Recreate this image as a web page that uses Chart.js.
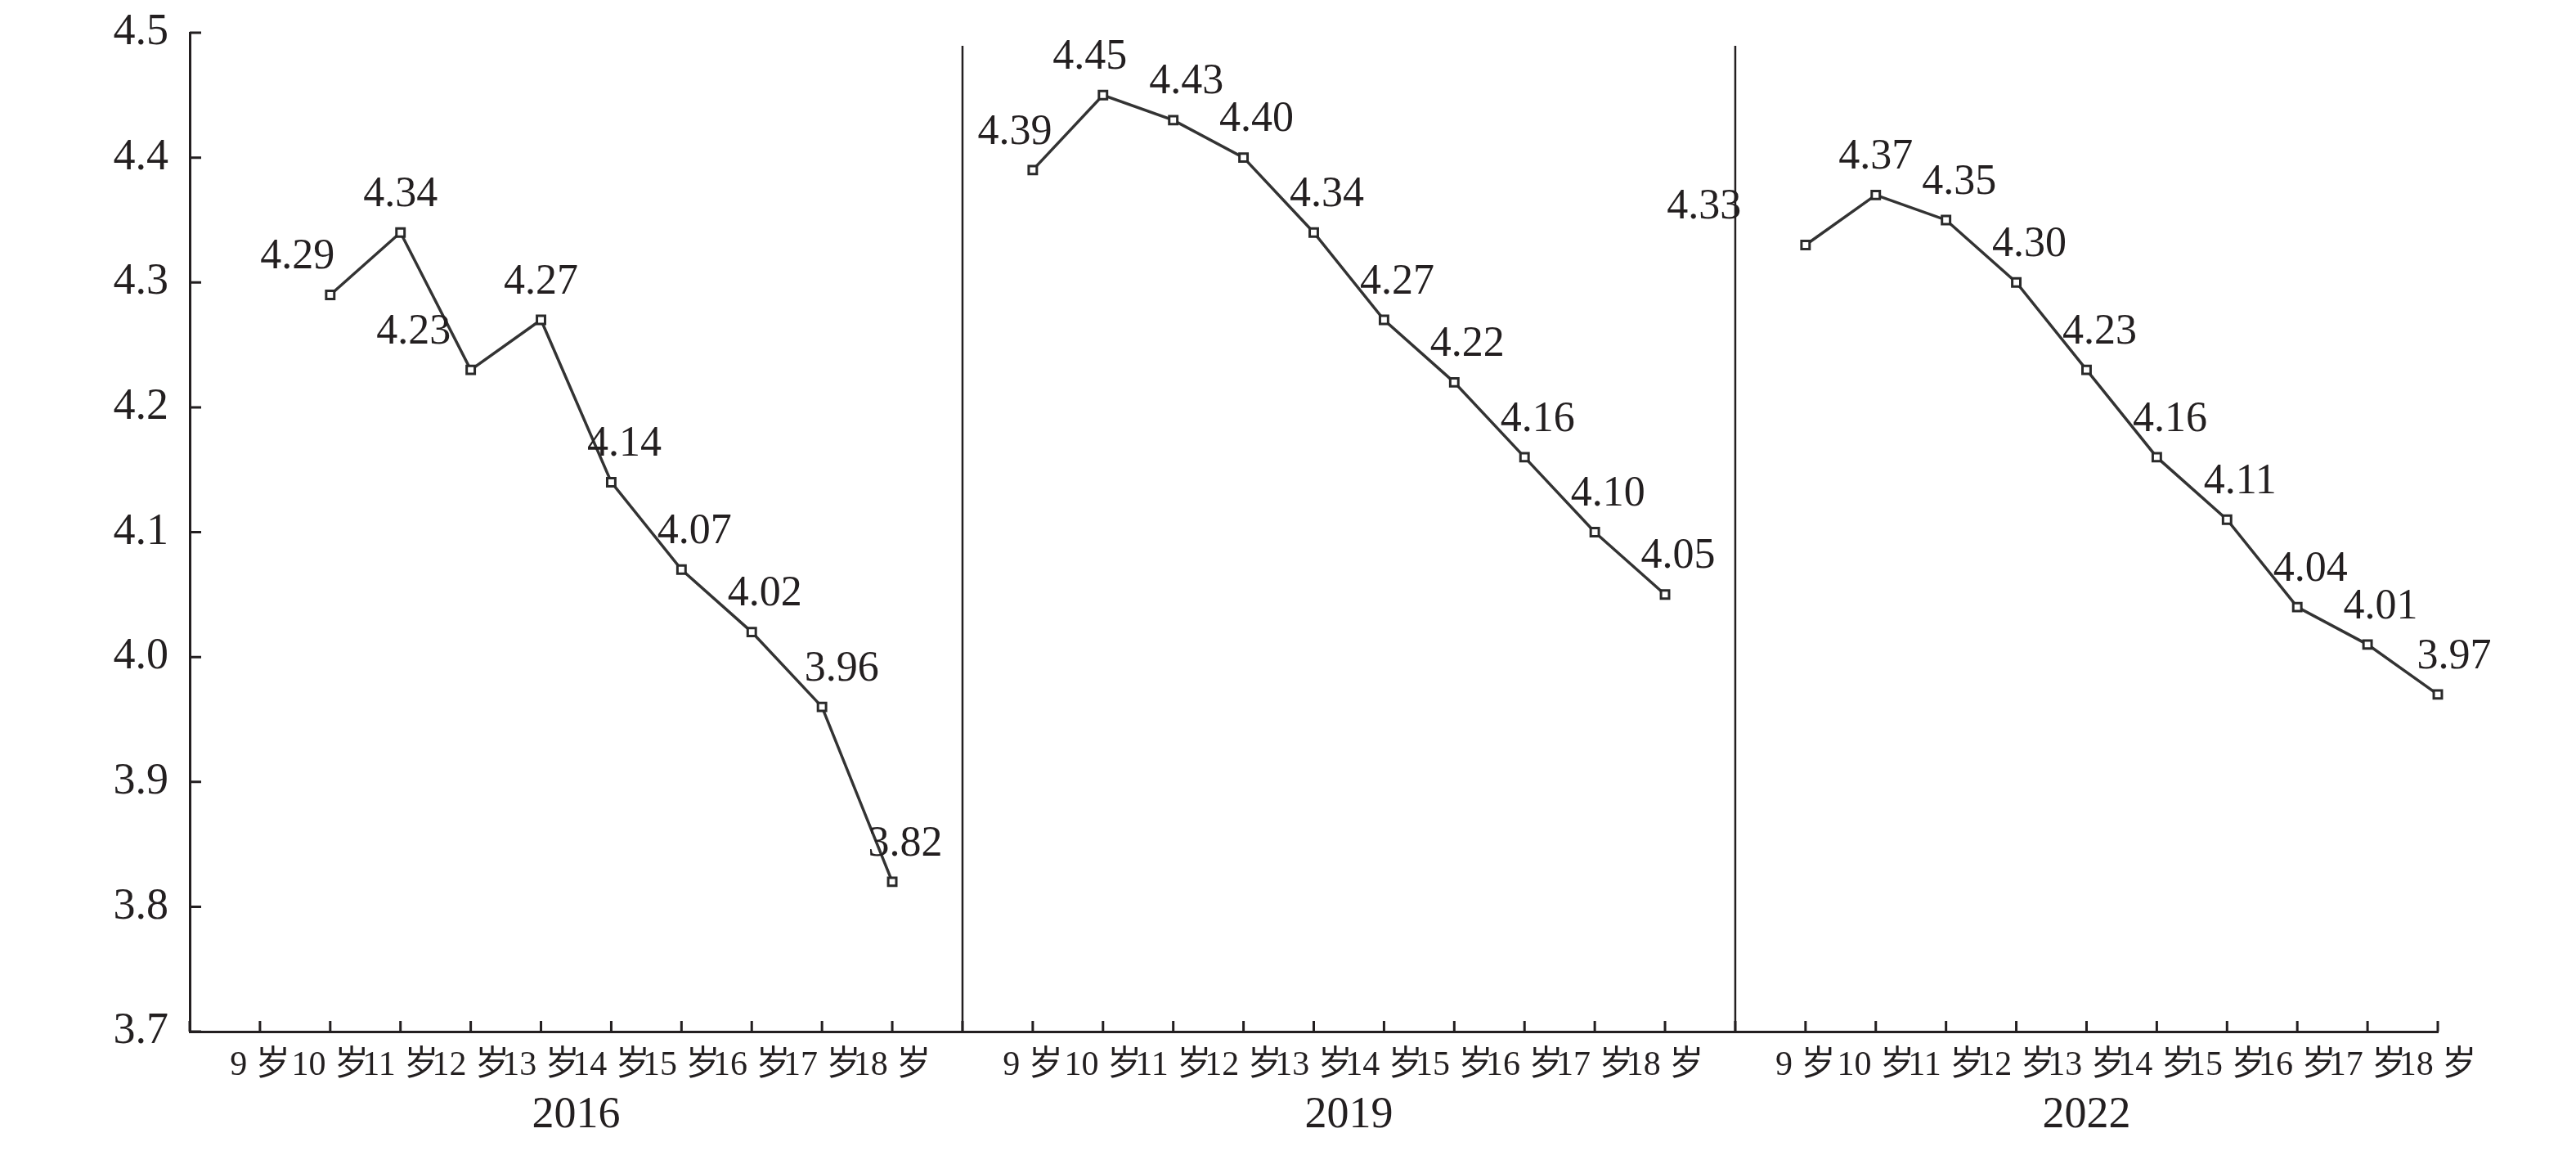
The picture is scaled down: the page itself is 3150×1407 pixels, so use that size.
<!DOCTYPE html>
<html>
<head>
<meta charset="utf-8">
<script src="https://cdn.jsdelivr.net/npm/chart.js@4.4.1/dist/chart.umd.min.js"></script>
<style>
  html, body { margin: 0; padding: 0; background: #fff; }
  canvas { display: block; }
</style>
</head>
<body>
<canvas id="c" width="3150" height="1407"></canvas>
<script>
const ages = ['9 岁', '10 岁', '11 岁', '12 岁', '13 岁', '14 岁', '15 岁', '16 岁', '17 岁', '18 岁'];
const years = ['2016', '2019', '2022'];
const yTicks = [3.7, 3.8, 3.9, 4.0, 4.1, 4.2, 4.3, 4.4, 4.5];

// one value per age, null = no data
const values2016 = [null, 4.29, 4.34, 4.23, 4.27, 4.14, 4.07, 4.02, 3.96, 3.82];
const values2019 = [4.39, 4.45, 4.43, 4.40, 4.34, 4.27, 4.22, 4.16, 4.10, 4.05];
const values2022 = [4.33, 4.37, 4.35, 4.30, 4.23, 4.16, 4.11, 4.04, 4.01, 3.97];

const INK = '#231f20';
const SERIF = "'Liberation Serif', 'Noto Sans CJK SC', serif";

// category slots: axis gap, 2016 ages, divider, 2019 ages, divider, 2022 ages
const slotLabels = [''].concat(ages, [''], ages, [''], ages);
const slotValues = [null].concat(values2016, [null], values2019, [null], values2022);
const dividers = [1 + ages.length, 2 + 2 * ages.length];
const panelBounds = [0].concat(dividers, [slotLabels.length - 1]);
const panelCenters = years.map((_, i) => (panelBounds[i] + panelBounds[i + 1]) / 2);

// horizontal nudge for a few value labels that sit off to one side (by slot)
const labelShift = { 2: -56, 3: -16, 4: -86, 5: -16, 9: 8, 11: -16, 12: -38, 13: -32, 23: -140, 24: -16, 32: 4 };

const innerTicks = {
  id: 'innerTicks',
  afterDraw(chart) {
    const { ctx, chartArea: a } = chart;
    const x = chart.scales.x, y = chart.scales.y;
    ctx.save();
    ctx.strokeStyle = INK;
    ctx.lineWidth = 3;
    ctx.beginPath();
    for (let i = 0; i < slotLabels.length; i++) {
      const px = x.getPixelForTick(i);
      ctx.moveTo(px, a.bottom);
      ctx.lineTo(px, a.bottom - 13);
    }
    y.ticks.forEach((t, i) => {
      const py = y.getPixelForTick(i);
      ctx.moveTo(a.left, py);
      ctx.lineTo(a.left + 14, py);
    });
    ctx.stroke();
    // panel dividers
    ctx.lineWidth = 2.5;
    ctx.beginPath();
    dividers.forEach(d => {
      const px = x.getPixelForValue(d);
      ctx.moveTo(px, a.top + 16);
      ctx.lineTo(px, a.bottom);
    });
    ctx.stroke();
    ctx.restore();
  }
};

const valueLabels = {
  id: 'valueLabels',
  afterDatasetsDraw(chart) {
    const { ctx } = chart;
    const meta = chart.getDatasetMeta(0);
    ctx.save();
    ctx.font = '52px ' + SERIF;
    ctx.fillStyle = INK;
    ctx.textAlign = 'center';
    ctx.textBaseline = 'middle';
    meta.data.forEach((pt, i) => {
      const v = slotValues[i];
      if (v === null) return;
      const dx = 16 + (labelShift[i] || 0);
      ctx.fillText(v.toFixed(2), pt.x + dx, pt.y - 46);
    });
    ctx.restore();
  }
};

new Chart(document.getElementById('c'), {
  type: 'line',
  data: {
    labels: slotLabels,
    datasets: [{
      data: slotValues,
      borderColor: '#333',
      borderWidth: 3.5,
      pointStyle: 'rect',
      pointRadius: 7,
      pointBackgroundColor: '#fff',
      pointBorderColor: '#2a2a2a',
      pointBorderWidth: 3,
      spanGaps: false,
      tension: 0
    }]
  },
  options: {
    responsive: false,
    devicePixelRatio: 1,
    animation: false,
    layout: { padding: { left: 0, right: 169, top: 40, bottom: 0 } },
    plugins: {
      legend: { display: false },
      tooltip: { enabled: false }
    },
    scales: {
      y: {
        min: yTicks[0],
        max: yTicks[yTicks.length - 1],
        afterBuildTicks: s => { s.ticks = yTicks.map(v => ({ value: v })); },
        afterFit: s => { s.width = 232; s.paddingTop = 0; s.paddingBottom = 0; },
        ticks: {
          callback: v => Number(v).toFixed(1),
          font: { size: 54, family: SERIF },
          color: INK,
          padding: 26
        },
        grid: { drawOnChartArea: false, drawTicks: false },
        border: { display: true, color: INK, width: 3 }
      },
      x: {
        type: 'category',
        offset: false,
        weight: 0,
        afterFit: s => { s.height = 70; },
        ticks: {
          autoSkip: false,
          maxRotation: 0,
          minRotation: 0,
          font: { size: 42, family: SERIF },
          color: INK,
          padding: 17
        },
        grid: { display: false, drawTicks: false },
        border: { display: true, color: INK, width: 3 }
      },
      x2: {
        type: 'linear',
        position: 'bottom',
        weight: 1,
        min: 0,
        max: slotLabels.length - 1,
        afterBuildTicks: s => { s.ticks = panelCenters.map(v => ({ value: v })); },
        afterFit: s => { s.height = 76; },
        ticks: {
          autoSkip: false,
          maxRotation: 0,
          callback: (v, i) => years[i],
          font: { size: 54, family: SERIF },
          color: INK,
          padding: 0
        },
        grid: { display: false, drawTicks: false },
        border: { display: false }
      }
    }
  },
  plugins: [innerTicks, valueLabels]
});
</script>
</body>
</html>
